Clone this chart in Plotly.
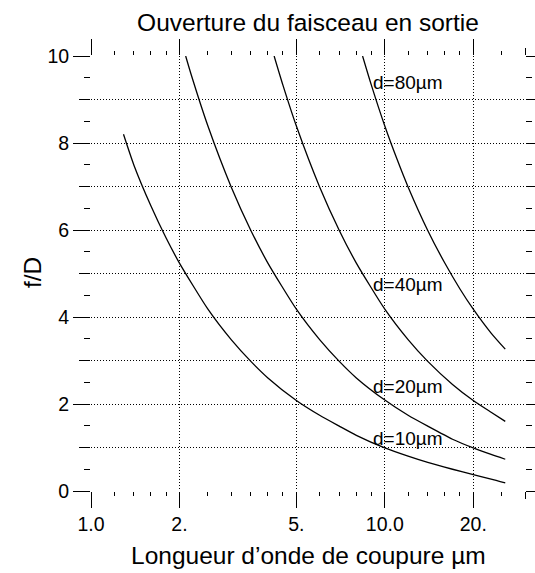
import math
import plotly.graph_objects as go

# ---- data (wavelength in µm, f/D) ----
lam_10 = [1.29, 1.4, 1.6, 1.8, 2.0, 2.5, 3.0, 3.5, 4.0, 5.0, 6.0, 7.0, 8.0, 10.0, 12.0, 14.0, 17.0, 20.0, 23.0, 25.7]
fd_10 = [8.2, 7.49, 6.55, 5.82, 5.24, 4.18, 3.48, 2.98, 2.60, 2.08, 1.74, 1.49, 1.28, 0.99, 0.80, 0.656, 0.50, 0.375, 0.275, 0.185]

lam_20 = [2.10, 2.2, 2.5, 3.0, 3.5, 4.0, 5.0, 6.0, 7.0, 8.0, 10.0, 12.0, 14.0, 17.0, 20.0, 23.0, 25.7]
fd_20 = [10.0, 9.54, 8.39, 6.99, 5.99, 5.24, 4.18, 3.48, 2.98, 2.60, 2.09, 1.74, 1.49, 1.19, 0.99, 0.84, 0.73]

lam_40 = [4.20, 4.5, 5.0, 6.0, 7.0, 8.0, 10.0, 12.0, 14.0, 17.0, 20.0, 23.0, 25.7]
fd_40 = [10.0, 9.33, 8.39, 6.99, 5.99, 5.24, 4.18, 3.48, 2.98, 2.45, 2.08, 1.81, 1.60]

lam_80 = [8.40, 9.0, 10.0, 11.0, 12.0, 14.0, 16.0, 18.0, 20.0, 23.0, 25.7]
fd_80 = [10.0, 9.33, 8.39, 7.63, 6.99, 5.99, 5.24, 4.65, 4.18, 3.63, 3.26]

curve_labels = ["d=80µm", "d=40µm", "d=20µm", "d=10µm"]

x_major = [1, 2, 5, 10, 20]
x_labels = ["1.0", "2.", "5.", "10.0", "20."]
x_minor = [1.2, 1.4, 1.6, 1.8, 2.5, 3, 3.5, 4, 4.5, 6, 7, 8, 9, 12, 14, 16, 18, 25]
x_end = [30]
y_major = [0, 2, 4, 6, 8, 10]
y_mid = [1, 3, 5, 7, 9]
y_minor = [0.5, 1.5, 2.5, 3.5, 4.5, 5.5, 6.5, 7.5, 8.5, 9.5]

title = "Ouverture du faisceau en sortie"
x_title = "Longueur d’onde de coupure µm"
y_title = "f/D"

# ---- styles / positions ----
FONT = "Liberation Sans, Arial, Helvetica, sans-serif"
DOT = "1px,2px"
label_pos_x = 9.0
label_pos_y = [9.39, 4.74, 2.40, 1.21]

fig = go.Figure()
curves = [
    (lam_10, fd_10, "x", "y2"),
    (lam_20, fd_20, "x", "y"),
    (lam_40, fd_40, "x", "y"),
    (lam_80, fd_80, "x2", "y"),
]
for lam, fd, xa, ya in curves:
    fig.add_trace(go.Scatter(
        x=lam, y=fd, mode="lines",
        line=dict(color="black", width=1.3, shape="spline", smoothing=0.6),
        xaxis=xa, yaxis=ya, showlegend=False, hoverinfo="skip",
    ))

xr = [0, math.log10(x_end[0])]
fig.update_layout(
    width=535, height=573,
    margin=dict(l=91, r=10, t=56, b=82),
    paper_bgcolor="white", plot_bgcolor="white",
    font=dict(family=FONT, size=19.5, color="black"),
    title=dict(text=title, x=0.5, xref="paper", xanchor="center",
               y=1 - 22.6 / 573, yref="container", yanchor="middle",
               font=dict(family=FONT, size=24.5, color="black")),
    xaxis=dict(
        type="log", range=xr, showline=False, zeroline=False,
        tickvals=x_major, ticktext=x_labels, ticks="outside", ticklen=16,
        tickcolor="black", tickwidth=1, mirror="ticks",
        showgrid=True, gridcolor="black", griddash=DOT, gridwidth=1,
        minor=dict(tickvals=x_minor, ticks="outside", ticklen=4,
                   tickcolor="black", tickwidth=1, showgrid=False),
    ),
    xaxis2=dict(
        type="log", range=xr, overlaying="x", anchor="y",
        tickvals=x_end, ticks="outside", ticklen=7, tickcolor="black",
        mirror="ticks", showticklabels=False, showgrid=False,
        zeroline=False, showline=False,
    ),
    yaxis=dict(
        range=[0, 10], showline=False, zeroline=False,
        tickvals=y_major, ticks="outside", ticklen=17,
        tickcolor="black", tickwidth=1, mirror="ticks",
        showgrid=True, gridcolor="black", griddash=DOT, gridwidth=1,
        minor=dict(tickvals=y_minor, ticks="outside", ticklen=6,
                   tickcolor="black", tickwidth=1, showgrid=False),
    ),
    yaxis2=dict(
        range=[0, 10], overlaying="y", anchor="x", side="left",
        tickvals=y_mid, ticks="outside", ticklen=11, tickcolor="black",
        mirror="ticks", showticklabels=False,
        showgrid=True, gridcolor="black", griddash=DOT, gridwidth=1,
        zeroline=False, showline=False,
    ),
)

for txt, yy in zip(curve_labels, label_pos_y):
    fig.add_annotation(x=math.log10(label_pos_x), y=yy, xref="x", yref="y",
                       text=txt, showarrow=False, xanchor="left", yanchor="middle",
                       font=dict(family=FONT, size=19, color="black"))

fig.add_annotation(x=0.5, y=-(555.5 - 491) / 435, xref="paper", yref="paper",
                   text=x_title, showarrow=False, xanchor="center", yanchor="middle",
                   font=dict(family=FONT, size=24.5, color="black"))
fig.add_annotation(x=(32 - 91) / 434, y=(491 - 273) / 435, xref="paper", yref="paper",
                   text=y_title, showarrow=False, textangle=-90,
                   xanchor="center", yanchor="middle",
                   font=dict(family=FONT, size=24.5, color="black"))

fig.write_html("out.html", config={"displayModeBar": False},
               post_script="document.body.style.margin='0';")
